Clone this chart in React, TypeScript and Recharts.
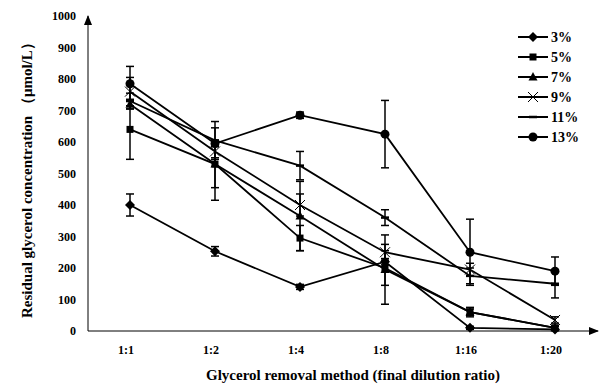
import React from 'react';
import { LineChart, Line, XAxis, YAxis, ErrorBar } from 'recharts';

const categories = ['1:1', '1:2', '1:4', '1:8', '1:16', '1:20'];
const yTicks = [0, 100, 200, 300, 400, 500, 600, 700, 800, 900, 1000];

// mean values per glycerol concentration
const s3 = [400, 253, 140, 220, 10, 5];
const s5 = [640, 530, 295, 200, 60, 10];
const s7 = [720, 530, 365, 195, 60, 10];
const s9 = [760, 570, 400, 250, 195, 35];
const s11 = [730, 605, 525, 360, 175, 150];
const s13 = [785, 595, 685, 625, 250, 190];

// error bar half-lengths
const e3 = [35, 15, 8, 10, 5, 3];
const e5 = [95, 115, 40, 55, 10, 5];
const e7 = [15, 75, 110, 110, 15, 8];
const e9 = [45, 20, 35, 25, 20, 10];
const e11 = [25, 60, 45, 25, 25, 45];
const e13 = [55, 10, 10, 107, 105, 45];

const series = [
  { key: 's3', err: 'e3', name: '3%', shape: 'diamond', values: s3, errors: e3 },
  { key: 's5', err: 'e5', name: '5%', shape: 'square', values: s5, errors: e5 },
  { key: 's7', err: 'e7', name: '7%', shape: 'triangle', values: s7, errors: e7 },
  { key: 's9', err: 'e9', name: '9%', shape: 'cross', values: s9, errors: e9 },
  { key: 's11', err: 'e11', name: '11%', shape: 'dash', values: s11, errors: e11 },
  { key: 's13', err: 'e13', name: '13%', shape: 'circle', values: s13, errors: e13 },
];

const data = categories.map((c, i) => {
  const row: Record<string, string | number> = { name: c };
  series.forEach((s) => {
    row[s.key] = s.values[i];
    row[s.err] = s.errors[i];
  });
  return row;
});

const FONT = '"Liberation Serif", "Times New Roman", serif';

const Marker = ({ shape, cx, cy }: { shape: string; cx: number; cy: number }) => {
  if (cx == null || cy == null) return null;
  switch (shape) {
    case 'diamond':
      return <polygon points={`${cx},${cy - 5} ${cx + 5},${cy} ${cx},${cy + 5} ${cx - 5},${cy}`} fill="#000" />;
    case 'square':
      return <rect x={cx - 3.5} y={cy - 3.5} width={7} height={7} fill="#000" />;
    case 'triangle':
      return <polygon points={`${cx},${cy - 5} ${cx + 4.5},${cy + 3.5} ${cx - 4.5},${cy + 3.5}`} fill="#000" />;
    case 'cross':
      return (
        <g stroke="#000" strokeWidth={1}>
          <line x1={cx - 5} y1={cy - 5} x2={cx + 5} y2={cy + 5} />
          <line x1={cx - 5} y1={cy + 5} x2={cx + 5} y2={cy - 5} />
        </g>
      );
    case 'dash':
      return <line x1={cx - 4} y1={cy} x2={cx + 4} y2={cy} stroke="#000" strokeWidth={2.5} />;
    default:
      return <circle cx={cx} cy={cy} r={4.5} fill="#000" />;
  }
};

const renderDot = (shape: string) => (props: any) => (
  <Marker key={`${shape}-${props.index}`} shape={shape} cx={props.cx} cy={props.cy} />
);

const LegendBox = () => (
  <svg width={90} height={130} style={{ position: 'absolute', left: 510, top: 25 }}>
    {series.map((s, i) => {
      const y = 12 + i * 20;
      return (
        <g key={s.key}>
          <line x1={8} y1={y} x2={38} y2={y} stroke="#000" strokeWidth={2} />
          <Marker shape={s.shape} cx={23} cy={y} />
          <text x={41} y={y + 5} fontFamily={FONT} fontWeight="bold" fontSize={14} fill="#000">
            {s.name}
          </text>
        </g>
      );
    })}
  </svg>
);

export default function App() {
  return (
    <div style={{ position: 'absolute', left: 0, top: 0, width: 601, height: 386, background: '#fff' }}>
      <svg width={0} height={0} style={{ position: 'absolute' }}>
        <defs>
          <marker id="arrowEnd" viewBox="0 0 10 8" refX={9} refY={4} markerWidth={10} markerHeight={8} markerUnits="userSpaceOnUse" orient="auto">
            <path d="M0,0 L10,4 L0,8 z" fill="#000" />
          </marker>
          <marker id="arrowStart" viewBox="0 0 10 8" refX={1} refY={4} markerWidth={10} markerHeight={8} markerUnits="userSpaceOnUse" orient="auto">
            <path d="M10,0 L0,4 L10,8 z" fill="#000" />
          </marker>
        </defs>
      </svg>
      <LineChart
        width={601}
        height={386}
        data={data}
        margin={{ top: 16, right: 3, bottom: 35, left: 48 }}
      >
        <XAxis
          dataKey="name"
          height={20}
          padding={{ left: 42, right: 43 }}
          tickLine={false}
          tickMargin={8}
          axisLine={{ stroke: '#000', strokeWidth: 1, markerEnd: 'url(#arrowEnd)' }}
          tick={{ fill: '#000', fontFamily: FONT, fontWeight: 'bold', fontSize: 12, dx: -4 }}
        />
        <YAxis
          width={40}
          domain={[0, 1000]}
          ticks={yTicks}
          interval={0}
          tickLine={false}
          tickMargin={6}
          axisLine={{ stroke: '#000', strokeWidth: 1, markerStart: 'url(#arrowStart)' }}
          tick={{ fill: '#000', fontFamily: FONT, fontWeight: 'bold', fontSize: 12 }}
        />
        {series.map((s) => (
          <Line
            key={s.key}
            dataKey={s.key}
            name={s.name}
            stroke="#000"
            strokeWidth={1.8}
            dot={renderDot(s.shape)}
            activeDot={false}
            isAnimationActive={false}
          >
            <ErrorBar dataKey={s.err} direction="y" width={4} stroke="#000" strokeWidth={1.5} isAnimationActive={false} />
          </Line>
        ))}
      </LineChart>
      <LegendBox />
      <svg width={601} height={386} style={{ position: 'absolute', left: 0, top: 0, pointerEvents: 'none' }}>
        <text
          x={0}
          y={0}
          transform="translate(32 318) rotate(-90)"
          textAnchor="start"
          fontFamily={FONT}
          fontWeight="bold"
          fontSize={15}
          fill="#000"
        >
          Residual glycerol concentration （μmol/L）
        </text>
        <text x={353} y={380} textAnchor="middle" fontFamily={FONT} fontWeight="bold" fontSize={15} fill="#000">
          Glycerol removal method (final dilution ratio)
        </text>
      </svg>
    </div>
  );
}
